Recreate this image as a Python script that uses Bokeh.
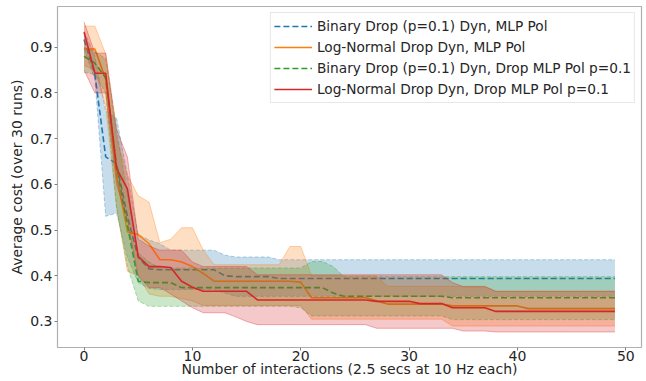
from bokeh.plotting import figure
from bokeh.models import Range1d, Legend, LegendItem
from bokeh.embed import file_html
from bokeh.resources import INLINE

steps = list(range(50))

labels = [
    "Binary Drop (p=0.1) Dyn, MLP Pol",
    "Log-Normal Drop Dyn, MLP Pol",
    "Binary Drop (p=0.1) Dyn, Drop MLP Pol p=0.1",
    "Log-Normal Drop Dyn, Drop MLP Pol p=0.1",
]
x_title = "Number of interactions (2.5 secs at 10 Hz each)"
y_title = "Average cost (over 30 runs)"

blue_mean = [0.917, 0.840, 0.660, 0.645, 0.530, 0.440, 0.415, 0.413, 0.413, 0.413,
             0.413, 0.413, 0.413, 0.400, 0.398, 0.398, 0.398, 0.398, 0.394, 0.394,
             0.394, 0.394, 0.394, 0.394, 0.394, 0.394, 0.394, 0.394, 0.394, 0.394,
             0.394, 0.394, 0.394, 0.394, 0.394, 0.394, 0.394, 0.394, 0.394, 0.394,
             0.394, 0.394, 0.394, 0.394, 0.394, 0.394, 0.394, 0.394, 0.394, 0.394]
blue_upper = [0.935, 0.880, 0.760, 0.745, 0.620, 0.490, 0.478, 0.470, 0.456, 0.456,
              0.456, 0.456, 0.456, 0.445, 0.441, 0.441, 0.441, 0.441, 0.435, 0.435,
              0.435, 0.435, 0.435, 0.435, 0.435, 0.435, 0.435, 0.435, 0.435, 0.435,
              0.435, 0.435, 0.435, 0.435, 0.435, 0.435, 0.435, 0.435, 0.435, 0.435,
              0.435, 0.435, 0.435, 0.435, 0.435, 0.435, 0.435, 0.435, 0.435, 0.435]
blue_lower = [0.895, 0.830, 0.530, 0.537, 0.440, 0.385, 0.372, 0.370, 0.370, 0.370,
              0.370, 0.370, 0.370, 0.362, 0.355, 0.355, 0.355, 0.355, 0.355, 0.355,
              0.355, 0.355, 0.355, 0.355, 0.355, 0.355, 0.355, 0.355, 0.355, 0.355,
              0.355, 0.355, 0.355, 0.355, 0.355, 0.355, 0.355, 0.355, 0.355, 0.355,
              0.355, 0.355, 0.355, 0.355, 0.355, 0.355, 0.355, 0.355, 0.355, 0.355]

orange_mean = [0.896, 0.896, 0.830, 0.620, 0.496, 0.490, 0.470, 0.435, 0.435, 0.430,
               0.420, 0.405, 0.388, 0.388, 0.388, 0.388, 0.388, 0.388, 0.388, 0.388,
               0.386, 0.352, 0.352, 0.352, 0.352, 0.352, 0.352, 0.345, 0.338, 0.338,
               0.338, 0.338, 0.338, 0.338, 0.334, 0.334, 0.334, 0.334, 0.334, 0.334,
               0.334, 0.328, 0.328, 0.328, 0.328, 0.328, 0.328, 0.328, 0.328, 0.328]
orange_upper = [0.946, 0.946, 0.885, 0.700, 0.620, 0.575, 0.561, 0.472, 0.480, 0.505,
                0.505, 0.456, 0.424, 0.424, 0.424, 0.424, 0.424, 0.424, 0.424, 0.464,
                0.464, 0.400, 0.400, 0.400, 0.400, 0.400, 0.400, 0.400, 0.377, 0.377,
                0.377, 0.377, 0.377, 0.377, 0.377, 0.377, 0.377, 0.377, 0.366, 0.366,
                0.366, 0.366, 0.366, 0.366, 0.366, 0.366, 0.366, 0.366, 0.366, 0.366]
orange_lower = [0.860, 0.850, 0.770, 0.550, 0.410, 0.400, 0.360, 0.355, 0.355, 0.350,
                0.345, 0.335, 0.335, 0.335, 0.335, 0.335, 0.335, 0.335, 0.335, 0.335,
                0.335, 0.305, 0.305, 0.305, 0.305, 0.305, 0.305, 0.305, 0.305, 0.305,
                0.305, 0.305, 0.305, 0.305, 0.290, 0.290, 0.290, 0.290, 0.290, 0.290,
                0.290, 0.290, 0.290, 0.290, 0.290, 0.290, 0.290, 0.290, 0.290, 0.290]

green_mean = [0.880, 0.865, 0.833, 0.640, 0.510, 0.388, 0.385, 0.385, 0.385, 0.374,
              0.374, 0.374, 0.374, 0.374, 0.374, 0.374, 0.374, 0.374, 0.374, 0.374,
              0.374, 0.374, 0.374, 0.362, 0.355, 0.355, 0.355, 0.355, 0.355, 0.355,
              0.355, 0.355, 0.355, 0.355, 0.352, 0.352, 0.352, 0.352, 0.352, 0.352,
              0.352, 0.352, 0.352, 0.352, 0.352, 0.352, 0.352, 0.352, 0.352, 0.352]
green_upper = [0.900, 0.890, 0.875, 0.720, 0.580, 0.450, 0.430, 0.417, 0.417, 0.417,
               0.417, 0.417, 0.417, 0.417, 0.417, 0.417, 0.417, 0.417, 0.417, 0.417,
               0.417, 0.431, 0.431, 0.420, 0.398, 0.398, 0.398, 0.398, 0.398, 0.398,
               0.398, 0.398, 0.398, 0.398, 0.398, 0.398, 0.398, 0.398, 0.398, 0.398,
               0.398, 0.398, 0.398, 0.398, 0.398, 0.398, 0.398, 0.398, 0.398, 0.398]
green_lower = [0.845, 0.840, 0.800, 0.550, 0.420, 0.345, 0.333, 0.333, 0.333, 0.333,
               0.333, 0.333, 0.333, 0.333, 0.333, 0.333, 0.333, 0.333, 0.333, 0.333,
               0.330, 0.312, 0.312, 0.312, 0.312, 0.312, 0.312, 0.312, 0.312, 0.312,
               0.312, 0.312, 0.312, 0.312, 0.304, 0.304, 0.304, 0.304, 0.304, 0.304,
               0.304, 0.304, 0.304, 0.304, 0.304, 0.304, 0.304, 0.304, 0.304, 0.304]

red_mean = [0.933, 0.843, 0.843, 0.635, 0.590, 0.442, 0.420, 0.420, 0.418, 0.388,
            0.375, 0.366, 0.366, 0.366, 0.366, 0.366, 0.347, 0.347, 0.347, 0.347,
            0.347, 0.347, 0.347, 0.347, 0.347, 0.347, 0.347, 0.344, 0.344, 0.344,
            0.344, 0.339, 0.339, 0.339, 0.330, 0.330, 0.330, 0.330, 0.322, 0.322,
            0.322, 0.322, 0.322, 0.322, 0.322, 0.322, 0.322, 0.322, 0.322, 0.322]
red_upper = [0.955, 0.887, 0.887, 0.720, 0.660, 0.480, 0.465, 0.456, 0.456, 0.456,
             0.430, 0.420, 0.420, 0.420, 0.420, 0.420, 0.402, 0.402, 0.402, 0.402,
             0.402, 0.402, 0.402, 0.402, 0.402, 0.402, 0.402, 0.402, 0.402, 0.402,
             0.402, 0.402, 0.402, 0.402, 0.385, 0.376, 0.376, 0.376, 0.366, 0.366,
             0.366, 0.366, 0.366, 0.366, 0.366, 0.366, 0.366, 0.366, 0.366, 0.366]
red_lower = [0.850, 0.800, 0.800, 0.600, 0.520, 0.400, 0.374, 0.374, 0.360, 0.345,
             0.330, 0.319, 0.319, 0.319, 0.310, 0.300, 0.293, 0.293, 0.293, 0.293,
             0.293, 0.293, 0.293, 0.293, 0.293, 0.293, 0.293, 0.285, 0.285, 0.285,
             0.285, 0.285, 0.285, 0.285, 0.285, 0.279, 0.279, 0.279, 0.277, 0.277,
             0.277, 0.277, 0.277, 0.277, 0.277, 0.277, 0.277, 0.277, 0.277, 0.277]

colors = ["#1f77b4", "#ff7f0e", "#2ca02c", "#d62728"]
dashed = [True, False, True, False]
series = [
    (blue_mean, blue_lower, blue_upper),
    (orange_mean, orange_lower, orange_upper),
    (green_mean, green_lower, green_upper),
    (red_mean, red_lower, red_upper),
]

FONT = "DejaVu Sans"
FS = "14px"

p = figure(width=646, height=381, output_backend="svg", toolbar_location=None,
           x_range=Range1d(-2.45, 51.45), y_range=Range1d(0.243, 0.989),
           min_border_left=57, min_border_right=5, min_border_top=6, min_border_bottom=34)
p.background_fill_color = "white"
p.border_fill_color = "white"
p.outline_line_color = "#b0b0b0"
p.outline_line_width = 1.2
p.grid.visible = False

items = []
for (m, lo, hi), c, d, lab in zip(series, colors, dashed, labels):
    p.varea(x=steps, y1=lo, y2=hi, fill_color=c, fill_alpha=0.25)
    edash = "4 2" if d else "solid"
    p.line(steps, hi, line_color=c, line_alpha=0.35, line_width=1, line_dash=edash)
    p.line(steps, lo, line_color=c, line_alpha=0.35, line_width=1, line_dash=edash)
    r = p.line(steps, m, line_color=c, line_width=1.6, line_dash="6 3" if d else "solid")
    items.append(LegendItem(label=lab, renderers=[r]))

legend = Legend(items=items, location="top_right")
legend.label_text_font = FONT
legend.label_text_font_size = "13.7px"
legend.label_text_color = "#262626"
legend.glyph_width = 38
legend.glyph_height = 20
legend.label_height = 20
legend.spacing = 1
legend.padding = 3
legend.margin = 6
legend.label_standoff = 5
legend.border_line_color = "#d0d0d0"
legend.background_fill_alpha = 0.85
p.add_layout(legend)

p.xaxis.ticker = [0, 10, 20, 30, 40, 50]
p.yaxis.ticker = [0.3, 0.4, 0.5, 0.6, 0.7, 0.8, 0.9]
p.xaxis.axis_label = x_title
p.yaxis.axis_label = y_title
for ax in (p.xaxis, p.yaxis):
    ax.axis_line_color = None
    ax.major_tick_in = 0
    ax.major_tick_out = 3
    ax.major_tick_line_color = "#808080"
    ax.minor_tick_line_color = None
    ax.major_label_text_font = FONT
    ax.major_label_text_font_size = FS
    ax.major_label_text_color = "#262626"
    ax.axis_label_text_font = FONT
    ax.axis_label_text_font_size = FS
    ax.axis_label_text_font_style = "normal"
    ax.axis_label_text_color = "#262626"
    ax.major_label_standoff = 2
    ax.axis_label_standoff = 2
p.xaxis.major_label_standoff = 0
p.xaxis.axis_label_standoff = -3

open("out.html", "w").write(file_html(p, INLINE))
